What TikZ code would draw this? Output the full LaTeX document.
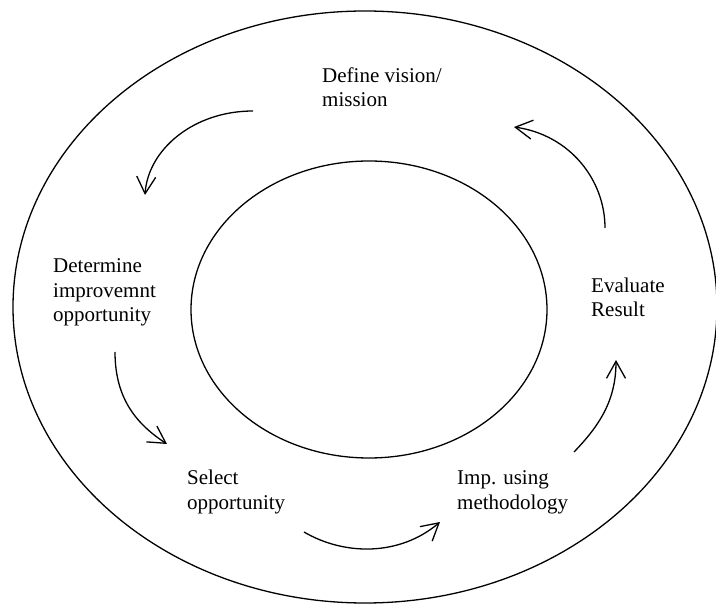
\documentclass[tikz,border=0pt]{standalone}
\usepackage{fontspec}
\setmainfont{Liberation Serif}
\usetikzlibrary{arrows.meta}
\begin{document}
\begin{tikzpicture}[x=1pt,y=-1pt,
  ring/.style={draw,line width=1.3pt},
  flow/.style={draw,line width=1.3pt,-{Straight Barb[length=17pt,width=19pt,line width=1.3pt]}},
  label/.style={anchor=base west,inner sep=0pt,align=left,
    font=\fontsize{21}{24.5}\selectfont}]
  \useasboundingbox (0,0) rectangle (716,604);

  % outer and inner rings
  \draw[ring] (365,307) ellipse [x radius=352, y radius=296];
  \draw[ring] (369,309.5) ellipse [x radius=178, y radius=148.5];

  % stage labels (placed by the baseline of their last line)
  \node[label] (define)    at (322,107) {Define vision/\\mission};
  \node[label] (determine) at (53,322)  {Determine\\improvemnt\\opportunity};
  \node[label] (select)    at (187,509) {Select\\opportunity};
  \node[label] (imp)       at (457,509) {Imp. using\\methodology};
  \node[label] (evaluate)  at (591,317) {Evaluate\\Result};

  % arrow end points
  \coordinate (a1s) at (253,111);  \coordinate (a1e) at (145,195);
  \coordinate (a2s) at (115,352);  \coordinate (a2e) at (167,444);
  \coordinate (a3s) at (304,532);  \coordinate (a3e) at (440,522);
  \coordinate (a4s) at (574,452);  \coordinate (a4e) at (616,360);
  \coordinate (a5s) at (605,228);  \coordinate (a5e) at (514,127);

  % cycle arrows
  \draw[flow] (a1s) .. controls (193,111) and (148,150) .. (a1e);
  \draw[flow] (a2s) .. controls (115,400) and (138,425) .. (a2e);
  \draw[flow] (a3s) .. controls (345,556) and (400,556) .. (a3e);
  \draw[flow] (a4s) .. controls (600,425) and (616,400) .. (a4e);
  \draw[flow] (a5s) .. controls (605,180) and (570,135) .. (a5e);
\end{tikzpicture}
\end{document}
